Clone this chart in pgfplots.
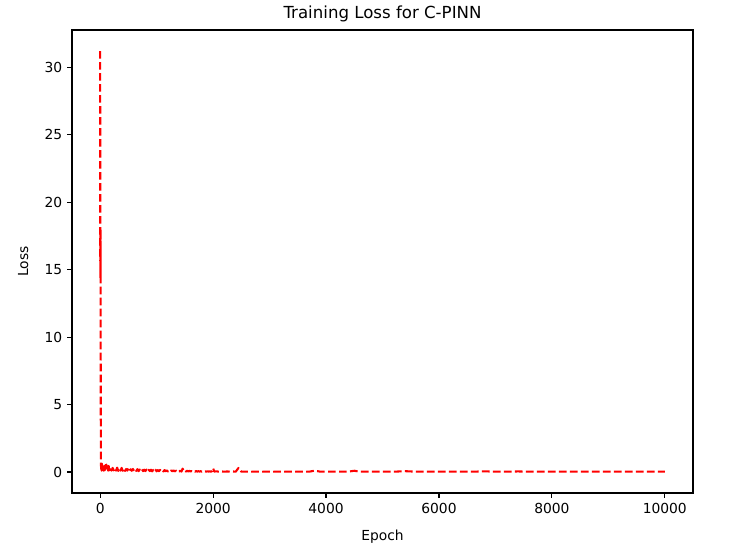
\documentclass[border=0pt]{standalone}
\usepackage{pgfplots}
\pgfplotsset{compat=1.18}
\usepackage{fontspec}
\setmainfont{DejaVu Sans}
\pgfplotstableread{
epoch loss
0 31.2
1 17.9
2 14.4
3 17.6
4 14.8
5 16.9
6 14.5
7 18.0
8 15.2
9 9.0
10 4.5
12 1.8
14 0.6
16 0.2
20 0.5
25 0.1
30 0.62
40 0.15
50 0.45
60 0.1
70 0.38
80 0.12
90 0.5
100 0.2
110 0.55
120 0.15
130 0.42
140 0.1
150 0.45
160 0.12
180 0.35
200 0.1
220 0.3
240 0.12
260 0.28
280 0.1
300 0.32
320 0.08
340 0.25
360 0.1
380 0.3
400 0.09
420 0.24
440 0.08
460 0.22
480 0.1
500 0.26
520 0.07
540 0.2
560 0.09
580 0.22
600 0.07
620 0.19
640 0.08
660 0.21
680 0.06
700 0.18
720 0.08
740 0.2
760 0.06
780 0.17
800 0.07
820 0.18
840 0.05
860 0.16
880 0.07
900 0.17
920 0.05
940 0.15
960 0.06
980 0.16
1000 0.05
1020 0.14
1040 0.06
1060 0.15
1080 0.05
1100 0.13
1120 0.04
1140 0.14
1160 0.05
1180 0.12
1200 0.04
1220 0.13
1240 0.05
1260 0.11
1280 0.04
1300 0.12
1320 0.04
1340 0.1
1360 0.05
1380 0.11
1400 0.04
1420 0.1
1440 0.03
1460 0.25
1480 0.04
1500 0.09
1520 0.03
1540 0.09
1560 0.04
1580 0.08
1600 0.03
1620 0.08
1640 0.03
1660 0.07
1680 0.03
1700 0.07
1720 0.03
1740 0.06
1760 0.03
1780 0.06
1800 0.02
1820 0.06
1840 0.03
1860 0.05
1880 0.02
1900 0.05
1920 0.03
1940 0.05
1960 0.02
1980 0.06
2000 0.28
2020 0.03
2060 0.05
2100 0.02
2150 0.04
2200 0.02
2250 0.04
2300 0.02
2350 0.04
2400 0.02
2450 0.3
2500 0.02
2600 0.03
2700 0.02
2800 0.03
2900 0.02
3000 0.03
3100 0.02
3200 0.03
3300 0.02
3400 0.03
3500 0.02
3600 0.03
3700 0.02
3800 0.1
3900 0.02
4000 0.03
4100 0.02
4200 0.03
4300 0.02
4400 0.03
4500 0.09
4600 0.02
4700 0.03
4800 0.02
4900 0.02
5000 0.03
5200 0.02
5400 0.06
5600 0.02
5800 0.02
6000 0.03
6200 0.02
6400 0.02
6600 0.02
6800 0.05
7000 0.02
7200 0.02
7400 0.04
7600 0.02
7800 0.02
8000 0.02
8200 0.02
8400 0.02
8600 0.02
8800 0.02
9000 0.02
9200 0.02
9400 0.02
9600 0.02
9800 0.02
10000 0.02
}\losstable
\begin{document}
\begin{tikzpicture}[x=0.01in,y=0.01in]
\begin{axis}[
  scale only axis,
  width=6.21in, height=4.63in,
  xmin=-500, xmax=10500,
  ymin=-1.56, ymax=32.76,
  xtick={0,2000,4000,6000,8000,10000},
  ytick={0,5,10,15,20,25,30},
  scaled ticks=false,
  tick align=outside,
  tick pos=left,
  major tick length=3.5pt,
  tick style={black, line width=0.8pt},
  axis line style={line width=0.8pt},
  /pgf/number format/assume math mode=true,
  /pgf/number format/1000 sep={},
  /pgf/number format/fixed,
  tick label style={font=\fontsize{10}{12}\selectfont},
  label style={font=\fontsize{10}{12}\selectfont},
  title style={font=\fontsize{12}{14}\selectfont, yshift=-3.5pt},
  title={Training Loss for C-PINN},
  xlabel={Epoch},
  ylabel={Loss},
  xlabel style={yshift=-5pt},
  ylabel style={yshift=5pt},
]
\addplot[red, line width=1.5pt, dash pattern=on 5.55pt off 2.4pt, line join=round] table[x=epoch, y=loss] {\losstable};
\end{axis}
\path (current axis.south west) ++(-72,-60) coordinate (bl);
\path (current axis.north east) ++(63,30) coordinate (tr);
\useasboundingbox (bl) rectangle (tr);
\end{tikzpicture}
\end{document}
